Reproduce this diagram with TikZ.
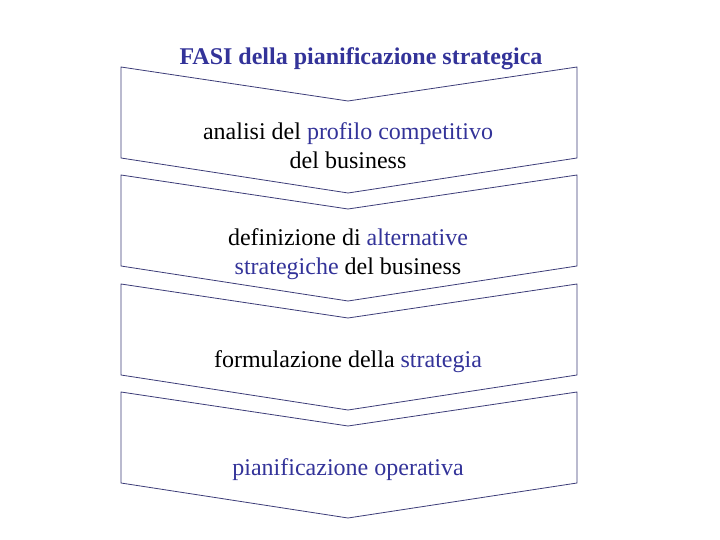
\documentclass[tikz,border=0pt]{standalone}
\usepackage{fontspec}
\setmainfont{Liberation Serif}
\definecolor{navy}{RGB}{51,51,153}
\definecolor{edge}{RGB}{60,60,120}
\begin{document}
\begin{tikzpicture}[x=1pt,y=-1pt,
  chev/.style={draw=edge,line width=0.8pt,line join=miter},
  lab/.style={font=\fontsize{24}{29}\selectfont,align=center,text=black,inner sep=0pt},
  hl/.style={text=navy}]
\useasboundingbox (0,0) rectangle (720,540);
\foreach \t in {67,175,284,392}{
  \draw[chev] (121,\t) -- (348,\t+34) -- (577,\t) -- (577,\t+91) -- (348,\t+126) -- (121,\t+91) -- cycle;
}
\node[lab,text=navy,font=\bfseries\fontsize{24}{29}\selectfont] (title) at (361,59) {FASI della pianificazione strategica};
\node[lab] (s1) at (348,146) {analisi del \textcolor{navy}{profilo competitivo}\\del business};
\node[lab] (s2) at (348,254) {definizione di \textcolor{navy}{alternative}\\\textcolor{navy}{strategiche} del business};
\node[lab] (s3) at (348,362) {formulazione della \textcolor{navy}{strategia}};
\node[lab,text=navy] (s4) at (348,470) {pianificazione operativa};
\end{tikzpicture}
\end{document}
